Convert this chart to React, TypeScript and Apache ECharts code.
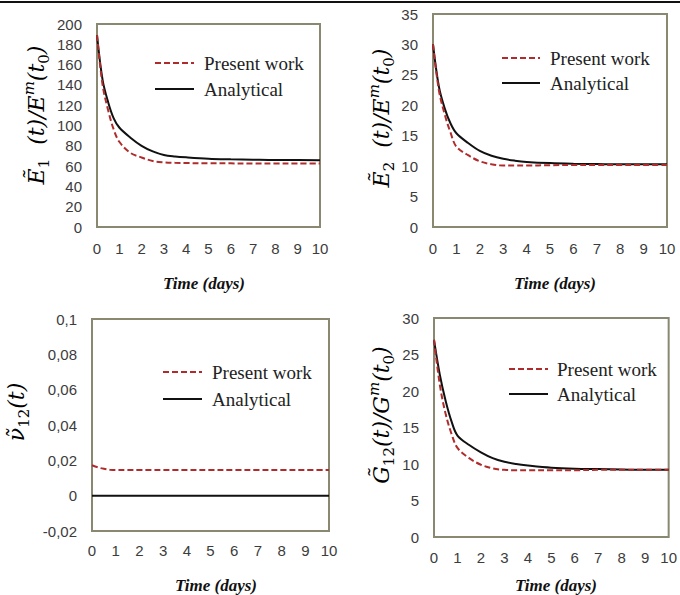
import React, { useEffect, useRef } from "react";
import * as echarts from "echarts";

const timeDays = [0, 0.25, 0.5, 0.75, 1, 1.5, 2, 2.5, 3, 3.5, 4, 5, 6, 7, 8, 9, 10];
const xTicks = [0, 1, 2, 3, 4, 5, 6, 7, 8, 9, 10];

const e1Present = [189, 140, 115, 96, 84, 73, 68.5, 65, 63.7, 63.2, 63, 62.8, 62.7, 62.6, 62.5, 62.5, 62.5];
const e1Analytical = [189, 145, 123, 107, 98, 88, 80, 74.5, 71, 69.5, 68.6, 67.3, 66.7, 66.3, 66, 66, 65.8];

const e2Present = [30, 22.5, 18.5, 15.5, 13.2, 11.8, 10.8, 10.3, 10.1, 10.1, 10.1, 10.15, 10.2, 10.2, 10.2, 10.2, 10.2];
const e2Analytical = [30, 23.1, 19.5, 17, 15.4, 13.8, 12.5, 11.7, 11.2, 10.9, 10.7, 10.5, 10.4, 10.35, 10.3, 10.3, 10.3];

const nuPresent = [0.0172, 0.016, 0.0152, 0.0147, 0.0145, 0.0145, 0.0145, 0.0145, 0.0145, 0.0145, 0.0145, 0.0145, 0.0145, 0.0145, 0.0145, 0.0145, 0.0145];
const nuAnalytical = [0, 0, 0, 0, 0, 0, 0, 0, 0, 0, 0, 0, 0, 0, 0, 0, 0];

const g12Present = [27, 20.8, 16.8, 14.1, 12.2, 10.8, 9.9, 9.4, 9.2, 9.15, 9.15, 9.15, 9.15, 9.2, 9.2, 9.2, 9.2];
const g12Analytical = [27, 22.2, 18.6, 15.8, 13.9, 12.6, 11.6, 10.8, 10.3, 10, 9.8, 9.5, 9.35, 9.3, 9.25, 9.2, 9.2];

const seriesNames = ["Present work", "Analytical"];
const xTitle = "Time (days)";

const RED = "#b02c2c";
const FRAME = "#8a8870";
const LABEL = "#3c3c3c";

const grids = [
  { left: 97, top: 24, width: 223, height: 203 },
  { left: 433, top: 14, width: 234, height: 213 },
  { left: 92, top: 319, width: 237, height: 212 },
  { left: 434, top: 318, width: 239, height: 219 },
];

const yAxes = [
  { min: 0, max: 200, interval: 20 },
  { min: 0, max: 35, interval: 5 },
  { min: -0.02, max: 0.1, interval: 0.02 },
  { min: 0, max: 30, interval: 5 },
];

const xLabelMargins = [14, 14, 12, 13];

const panels = [
  { present: e1Present, analytical: e1Analytical },
  { present: e2Present, analytical: e2Analytical },
  { present: nuPresent, analytical: nuAnalytical },
  { present: g12Present, analytical: g12Analytical },
];

const legendPos = [
  { x1: 155, x2: 194, tx: 204, y1: 63, y2: 89 },
  { x1: 502, x2: 540, tx: 550, y1: 58, y2: 83 },
  { x1: 163, x2: 202, tx: 212, y1: 372, y2: 399 },
  { x1: 509, x2: 548, tx: 557, y1: 369, y2: 394 },
];

const xTitlePos = [
  { x: 204, y: 283 },
  { x: 555, y: 283 },
  { x: 216, y: 585 },
  { x: 556, y: 585 },
];

const yTitles = [
  { text: "{m|Ẽ}{s|1}{m|  (t)/E}{p|m}{m|(t}{s|0}{m|)}", x: 36, y: 115 },
  { text: "{m|Ẽ}{s|2}{m|  (t)/E}{p|m}{m|(t}{s|0}{m|)}", x: 381, y: 118 },
  { text: "{m|ν\u0303}{s|12}{m|(t)}", x: 16, y: 412 },
  { text: "{m|G\u0303}{s|12}{m|(t)/G}{p|m}{m|(t}{s|0}{m|)}", x: 381, y: 415 },
];

const MATH_FONT = "DejaVu Serif";
const richMath = {
  m: { fontFamily: MATH_FONT, fontStyle: "italic", fontSize: 22, lineHeight: 30, color: "#222" },
  s: { fontFamily: MATH_FONT, fontStyle: "normal", fontSize: 15, lineHeight: 15, verticalAlign: "bottom", color: "#222" },
  p: { fontFamily: MATH_FONT, fontStyle: "italic", fontSize: 15, lineHeight: 15, verticalAlign: "top", color: "#222" },
};

function fmtY(idx: number) {
  return (v: number) => {
    if (idx === 2) {
      const r = Number(v.toFixed(2));
      return r === 0 ? "0" : String(r).replace(".", ",");
    }
    return String(Math.round(v));
  };
}

export default function App() {
  const ref = useRef<HTMLDivElement>(null);
  useEffect(() => {
    if (!ref.current) return;
    const chart = echarts.init(ref.current, undefined, { renderer: "svg" });

    const series: any[] = [];
    panels.forEach((p, i) => {
      series.push({
        type: "line",
        name: seriesNames[0],
        xAxisIndex: i,
        yAxisIndex: i,
        data: timeDays.map((t, k) => [t, p.present[k]]),
        showSymbol: false,
        symbol: "none",
        smooth: 0.35,
        lineStyle: { color: RED, width: 2, type: [6, 3] },
        z: 3,
      });
      series.push({
        type: "line",
        name: seriesNames[1],
        xAxisIndex: i,
        yAxisIndex: i,
        data: timeDays.map((t, k) => [t, p.analytical[k]]),
        showSymbol: false,
        symbol: "none",
        smooth: 0.35,
        lineStyle: { color: "#111", width: 2 },
        z: 2,
      });
    });

    const graphic: any[] = [
      { type: "line", shape: { x1: 0, y1: 2, x2: 680, y2: 2 }, style: { stroke: "#111", lineWidth: 2 } },
    ];
    legendPos.forEach((l) => {
      graphic.push(
        { type: "line", shape: { x1: l.x1, y1: l.y1, x2: l.x2, y2: l.y1 }, style: { stroke: RED, lineWidth: 2, lineDash: [6, 3] } },
        { type: "text", x: l.tx, y: l.y1, style: { text: seriesNames[0], font: "19px 'Liberation Serif'", fill: "#222", verticalAlign: "middle", align: "left" } },
        { type: "line", shape: { x1: l.x1, y1: l.y2, x2: l.x2, y2: l.y2 }, style: { stroke: "#111", lineWidth: 2 } },
        { type: "text", x: l.tx, y: l.y2, style: { text: seriesNames[1], font: "19px 'Liberation Serif'", fill: "#222", verticalAlign: "middle", align: "left" } }
      );
    });
    xTitlePos.forEach((p) => {
      graphic.push({
        type: "text",
        x: p.x,
        y: p.y,
        style: { text: xTitle, font: "italic bold 17px 'Liberation Serif'", fill: "#111", align: "center", verticalAlign: "middle" },
      });
    });
    yTitles.forEach((t) => {
      graphic.push({
        type: "text",
        x: t.x,
        y: t.y,
        rotation: Math.PI / 2,
        style: { text: t.text, rich: richMath, align: "center", verticalAlign: "middle" },
      });
    });

    chart.setOption({
      animation: false,
      backgroundColor: "#ffffff",
      grid: grids.map((g) => ({
        ...g,
        show: true,
        borderColor: FRAME,
        borderWidth: 2,
        backgroundColor: "transparent",
        containLabel: false,
      })),
      xAxis: grids.map((_, i) => ({
        type: "value",
        gridIndex: i,
        min: 0,
        max: 10,
        interval: 1,
        axisLine: { show: false },
        axisTick: { show: false },
        splitLine: { show: false },
        axisLabel: {
          margin: xLabelMargins[i],
          fontFamily: "Liberation Sans",
          fontSize: 15,
          color: LABEL,
          formatter: (v: number) => (xTicks.includes(v) ? String(v) : ""),
        },
      })),
      yAxis: yAxes.map((y, i) => ({
        type: "value",
        gridIndex: i,
        min: y.min,
        max: y.max,
        interval: y.interval,
        axisLine: { show: false },
        axisTick: { show: false },
        splitLine: { show: false },
        axisLabel: {
          margin: 15,
          fontFamily: "Liberation Sans",
          fontSize: 15,
          color: LABEL,
          formatter: fmtY(i),
        },
      })),
      series,
      graphic,
    });

    return () => chart.dispose();
  }, []);

  return (
    <div
      ref={ref}
      style={{ position: "fixed", left: 0, top: 0, width: 680, height: 595, background: "#fff" }}
    />
  );
}
